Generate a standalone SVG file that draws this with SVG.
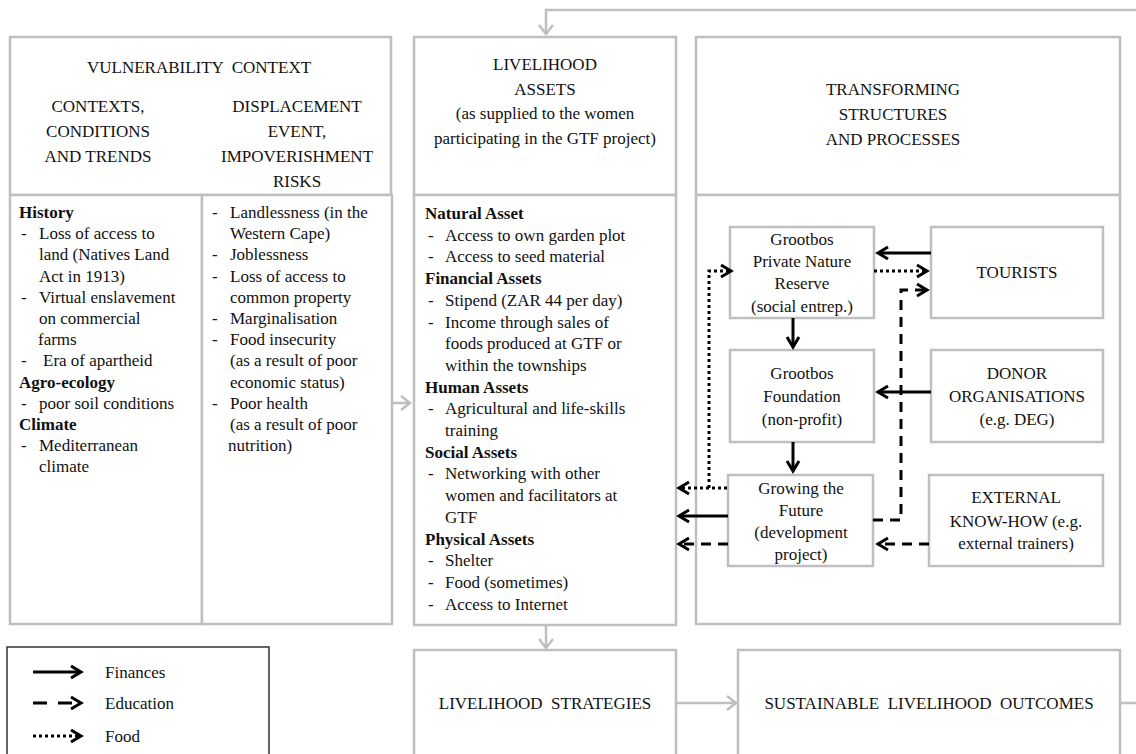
<svg xmlns="http://www.w3.org/2000/svg" width="1136" height="754" viewBox="0 0 1136 754">
<defs>
<marker id="ah" markerUnits="userSpaceOnUse" markerWidth="18" markerHeight="18" viewBox="0 0 18 18" refX="12" refY="9" orient="auto" overflow="visible">
<path d="M2,3 L12,9 L2,15" fill="none" stroke="#000" stroke-width="3" stroke-dasharray="none"/>
</marker>
<marker id="ag" markerUnits="userSpaceOnUse" markerWidth="18" markerHeight="18" viewBox="0 0 18 18" refX="12" refY="9" orient="auto" overflow="visible">
<path d="M3,2 L12,9 L3,16" fill="none" stroke="#bfbfbf" stroke-width="2.5" stroke-dasharray="none"/>
</marker>
</defs>
<style>
.box{fill:#fff;stroke:#bfbfbf;stroke-width:2.5}
.t{font-family:"Liberation Serif","Times New Roman",serif;font-size:17px;fill:#111}
.m{text-anchor:middle}
.b{font-weight:bold}
.c{stroke:#000;stroke-width:3;fill:none}
.dash{stroke-dasharray:10 7}
.dot{stroke-dasharray:3 3}
.g{stroke:#bfbfbf;stroke-width:2.5;fill:none}
</style>
<rect width="1136" height="754" fill="#fff"/>

<g id="vulnerability">
<rect class="box" x="10" y="37" width="381" height="158"/>
<rect class="box" x="10" y="195" width="192" height="429"/>
<rect class="box" x="202" y="195" width="190" height="429"/>
<text class="t m" x="199" y="73" xml:space="preserve">VULNERABILITY  CONTEXT</text>
<text class="t m" x="98" y="112">CONTEXTS,</text>
<text class="t m" x="98" y="137">CONDITIONS</text>
<text class="t m" x="98" y="162">AND TRENDS</text>
<text class="t m" x="297" y="112">DISPLACEMENT</text>
<text class="t m" x="297" y="137">EVENT,</text>
<text class="t m" x="297" y="162">IMPOVERISHMENT</text>
<text class="t m" x="297" y="187">RISKS</text>
<g class="t">
<text class="b" x="19" y="218">History</text>
<text x="21" y="239.2">-</text><text x="39" y="239.2">Loss of access to</text>
<text x="39" y="260.4">land (Natives Land</text>
<text x="39" y="281.6">Act in 1913)</text>
<text x="21" y="302.8">-</text><text x="39" y="302.8">Virtual enslavement</text>
<text x="39" y="324">on commercial</text>
<text x="38" y="345.2">farms</text>
<text x="21" y="366.4">-</text><text x="43" y="366.4">Era of apartheid</text>
<text class="b" x="19" y="387.6">Agro-ecology</text>
<text x="21" y="408.8">-</text><text x="39" y="408.8">poor soil conditions</text>
<text class="b" x="19" y="430">Climate</text>
<text x="21" y="451.2">-</text><text x="39" y="451.2">Mediterranean</text>
<text x="39" y="472.4">climate</text>

<text x="212" y="218">-</text><text x="230" y="218">Landlessness (in the</text>
<text x="230" y="239.2">Western Cape)</text>
<text x="212" y="260.4">-</text><text x="230" y="260.4">Joblessness</text>
<text x="212" y="281.6">-</text><text x="230" y="281.6">Loss of access to</text>
<text x="230" y="302.8">common property</text>
<text x="212" y="324">-</text><text x="230" y="324">Marginalisation</text>
<text x="212" y="345.2">-</text><text x="230" y="345.2">Food insecurity</text>
<text x="230" y="366.4">(as a result of poor</text>
<text x="230" y="387.6">economic status)</text>
<text x="212" y="408.8">-</text><text x="230" y="408.8">Poor health</text>
<text x="230" y="430">(as a result of poor</text>
<text x="228" y="451.2">nutrition)</text>
</g>
</g>

<g id="assets">
<rect class="box" x="414" y="37" width="262" height="158"/>
<rect class="box" x="414" y="195" width="262" height="430"/>
<text class="t m" x="545" y="70">LIVELIHOOD</text>
<text class="t m" x="545" y="95">ASSETS</text>
<text class="t m" x="545" y="119">(as supplied to the women</text>
<text class="t m" x="545" y="144">participating in the GTF project)</text>
<g class="t">
<text class="b" x="425" y="219">Natural Asset</text>
<text x="428" y="240.7">-</text><text x="445" y="240.7">Access to own garden plot</text>
<text x="428" y="262.4">-</text><text x="445" y="262.4">Access to seed material</text>
<text class="b" x="425" y="284.1">Financial Assets</text>
<text x="428" y="305.8">-</text><text x="445" y="305.8">Stipend (ZAR 44 per day)</text>
<text x="428" y="327.5">-</text><text x="445" y="327.5">Income through sales of</text>
<text x="445" y="349.2">foods produced at GTF or</text>
<text x="445" y="370.9">within the townships</text>
<text class="b" x="425" y="392.6">Human Assets</text>
<text x="428" y="414.3">-</text><text x="445" y="414.3">Agricultural and life-skills</text>
<text x="445" y="436">training</text>
<text class="b" x="425" y="457.7">Social Assets</text>
<text x="428" y="479.4">-</text><text x="445" y="479.4">Networking with other</text>
<text x="445" y="501.1">women and facilitators at</text>
<text x="445" y="522.8">GTF</text>
<text class="b" x="425" y="544.5">Physical Assets</text>
<text x="428" y="566.2">-</text><text x="445" y="566.2">Shelter</text>
<text x="428" y="587.9">-</text><text x="445" y="587.9">Food (sometimes)</text>
<text x="428" y="609.6">-</text><text x="445" y="609.6">Access to Internet</text>
</g>
</g>

<g id="transforming">
<rect class="box" x="696" y="37" width="424" height="158"/>
<rect class="box" x="696" y="195" width="424" height="429"/>
<text class="t m" x="893" y="95">TRANSFORMING</text>
<text class="t m" x="893" y="120">STRUCTURES</text>
<text class="t m" x="893" y="145">AND PROCESSES</text>
</g>

<g id="pnr">
<rect class="box" x="730" y="227" width="144" height="91"/>
<text class="t m" x="802" y="245">Grootbos</text>
<text class="t m" x="802" y="267">Private Nature</text>
<text class="t m" x="802" y="289">Reserve</text>
<text class="t m" x="802" y="312">(social entrep.)</text>
</g>
<g id="tourists">
<rect class="box" x="931" y="227" width="172" height="91"/>
<text class="t m" x="1017" y="278">TOURISTS</text>
</g>
<g id="foundation">
<rect class="box" x="730" y="350" width="144" height="92"/>
<text class="t m" x="802" y="379">Grootbos</text>
<text class="t m" x="802" y="402">Foundation</text>
<text class="t m" x="802" y="425">(non-profit)</text>
</g>
<g id="donor">
<rect class="box" x="931" y="350" width="172" height="92"/>
<text class="t m" x="1017" y="379">DONOR</text>
<text class="t m" x="1017" y="402">ORGANISATIONS</text>
<text class="t m" x="1017" y="425">(e.g. DEG)</text>
</g>
<g id="gtf">
<rect class="box" x="728" y="475" width="145" height="91"/>
<text class="t m" x="801" y="494">Growing the</text>
<text class="t m" x="801" y="516">Future</text>
<text class="t m" x="801" y="538">(development</text>
<text class="t m" x="801" y="560">project)</text>
</g>
<g id="external">
<rect class="box" x="929" y="475" width="174" height="91"/>
<text class="t m" x="1016" y="503">EXTERNAL</text>
<text class="t m" x="1016" y="527">KNOW-HOW (e.g.</text>
<text class="t m" x="1016" y="549">external trainers)</text>
</g>

<g id="strategies">
<rect class="box" x="414" y="650" width="262" height="130"/>
<text class="t m" x="545" y="709" xml:space="preserve">LIVELIHOOD  STRATEGIES</text>
</g>
<g id="outcomes">
<rect class="box" x="738" y="650" width="382" height="130"/>
<text class="t m" x="929" y="709" xml:space="preserve">SUSTAINABLE  LIVELIHOOD  OUTCOMES</text>
</g>

<g id="legend">
<rect x="7" y="647" width="262" height="130" fill="#fff" stroke="#333" stroke-width="1.5"/>
<path class="c" d="M33,672 H81" marker-end="url(#ah)"/>
<path class="c" d="M33,703 H81" stroke-dasharray="14 11" marker-end="url(#ah)"/>
<path class="c dot" d="M33,736 H81" marker-end="url(#ah)"/>
<text class="t" x="105" y="678">Finances</text>
<text class="t" x="105" y="709">Education</text>
<text class="t" x="105" y="742">Food</text>
</g>

<g id="connectors">
<path class="g" d="M1136,10 H546 V34" marker-end="url(#ag)"/>
<path class="g" d="M392,403 H410" marker-end="url(#ag)"/>
<path class="g" d="M546,625 V648" marker-end="url(#ag)"/>
<path class="g" d="M676,703 H736" marker-end="url(#ag)"/>
<path class="g" d="M1120,703 H1136"/>

<path class="c" d="M931,253 H878" marker-end="url(#ah)"/>
<path class="c dot" d="M874,271 H927" marker-end="url(#ah)"/>
<path class="c dash" d="M873,520 H901 V290 H927" marker-end="url(#ah)"/>
<path class="c" d="M793,318 V347" marker-end="url(#ah)"/>
<path class="c" d="M931,392 H878" marker-end="url(#ah)"/>
<path class="c" d="M793,442 V471" marker-end="url(#ah)"/>
<path class="c dot" d="M727,488 H679" marker-end="url(#ah)"/>
<path class="c dot" d="M709,488 V271 H731" marker-end="url(#ah)"/>
<path class="c" d="M728,516 H679" marker-end="url(#ah)"/>
<path class="c dash" d="M728,544 H679" marker-end="url(#ah)"/>
<path class="c dash" d="M929,544 H878" marker-end="url(#ah)"/>
</g>
</svg>
